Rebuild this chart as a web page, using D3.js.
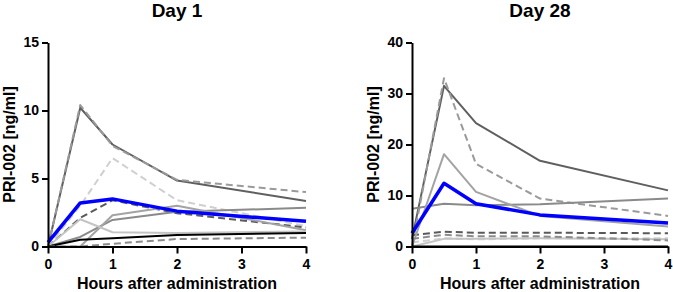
<!DOCTYPE html>
<html>
<head>
<meta charset="utf-8">
<script src="https://cdn.jsdelivr.net/npm/d3@7"></script>
<style>
  body { margin: 0; background: #fff; }
  svg { display: block; font-family: "Liberation Sans", Arial, sans-serif; }
</style>
</head>
<body>
<script>
// sampling times (hours after administration)
const hours = [0, 0.5, 1, 2, 4];
const xTicks = [0, 1, 2, 3, 4];

// one row per subject, same order in both days
const subjects = ['S1', 'S2', 'S3', 'S5', 'S6', 'S7', 'S8', 'S9', 'S10', 'S4'];

const day1Values = [
    [0, 10.2, 7.5, 4.85, 3.35],
    [0, 10.4, 7.4, 4.9, 4.0],
    [0, 3.0, 6.5, 3.4, 1.5],
    [0, 2.1, 3.4, 2.45, 1.4],
    [0, 0.7, 1.95, 2.55, 2.85],
    [0, 0, 2.3, 3.0, 1.2],
    [0, 2.0, 1.05, 1.0, 1.1],
    [0, 0.5, 0.6, 0.85, 1.0],
    [0, 0, 0.2, 0.55, 0.65],
    [0.3, 3.2, 3.5, 2.6, 1.85]
];

const day28Values = [
    [1.5, 31.5, 24.2, 16.8, 11.0],
    [0, 33.0, 16.2, 9.4, 6.0],
    [0.8, 1.6, 1.4, 1.6, 1.6],
    [2.2, 2.9, 2.7, 2.7, 2.6],
    [7.4, 8.4, 8.1, 8.3, 9.4],
    [0, 18.1, 10.7, 6.0, 3.9],
    [0, 1.5, 1.5, 1.6, 1.4],
    [0, 0, 0, 0, 0],
    [1.5, 2.3, 2.0, 2.0, 1.2],
    [2.6, 12.4, 8.4, 6.2, 4.6]
];

const panels = [
    { title: 'Day 1', values: day1Values, yMax: 15, yTicks: [0, 5, 10, 15], x0: 48, x1: 306 },
    { title: 'Day 28', values: day28Values, yMax: 40, yTicks: [0, 10, 20, 30, 40], x0: 412, x1: 668 }
];

// line look per subject (same order as subjects)
const styles = [
    { color: '#5f5f5f', dash: null, w: 2 },
    { color: '#9a9a9a', dash: '7,4', w: 2 },
    { color: '#cfcfcf', dash: '7,4', w: 2 },
    { color: '#5a5a5a', dash: '7,4', w: 2 },
    { color: '#8a8a8a', dash: null, w: 2 },
    { color: '#a3a3a3', dash: null, w: 2 },
    { color: '#c4c4c4', dash: null, w: 2 },
    { color: '#000000', dash: null, w: 2 },
    { color: '#8c8c8c', dash: '7,4', w: 2 },
    { color: '#0000ff', dash: null, w: 3.5 }
];

const W = 673, H = 292;
const plotTop = 42.5, plotBottom = 246.5;

const svg = d3.select('body').append('svg')
    .attr('width', W)
    .attr('height', H);

panels.forEach(p => {
    const x = d3.scaleLinear().domain([0, 4]).range([p.x0, p.x1]);
    const y = d3.scaleLinear().domain([0, p.yMax]).range([plotBottom, plotTop]);
    const g = svg.append('g');

    const line = d3.line()
        .x((d, i) => x(hours[i]))
        .y(d => y(d));

    g.selectAll('path.subj')
        .data(p.values)
        .enter()
        .append('path')
        .attr('class', 'subj')
        .attr('d', line)
        .attr('fill', 'none')
        .attr('stroke', (d, i) => styles[i].color)
        .attr('stroke-width', (d, i) => styles[i].w)
        .attr('stroke-dasharray', (d, i) => styles[i].dash)
        .attr('stroke-linejoin', 'round');

    // axes
    const xAxis = g.append('g')
        .attr('transform', 'translate(0,' + plotBottom + ')')
        .call(d3.axisBottom(x).tickValues(xTicks).tickSize(7).tickSizeOuter(0).tickPadding(6).tickFormat(d3.format('d')));
    const yAxis = g.append('g')
        .attr('transform', 'translate(' + p.x0 + ',0)')
        .call(d3.axisLeft(y).tickValues(p.yTicks).tickSize(6).tickSizeOuter(0).tickPadding(3));

    [xAxis, yAxis].forEach(a => {
        a.select('.domain').attr('stroke', '#000').attr('stroke-width', 2);
        a.selectAll('.tick line').attr('stroke', '#000').attr('stroke-width', 2);
        a.selectAll('.tick text')
            .attr('fill', '#000')
            .style('font-size', '14px')
            .style('font-weight', 'bold')
            .style('font-family', '"Liberation Sans", Arial, sans-serif');
    });

    const cx = (p.x0 + p.x1) / 2;
    g.append('text')
        .attr('x', cx)
        .attr('y', 17)
        .attr('text-anchor', 'middle')
        .style('font-size', '19px')
        .style('font-weight', 'bold')
        .text(p.title);

    g.append('text')
        .attr('x', cx)
        .attr('y', 288.5)
        .attr('text-anchor', 'middle')
        .style('font-size', '16px')
        .style('font-weight', 'bold')
        .text('Hours after administration');

    g.append('text')
        .attr('transform', 'translate(' + (p.x0 - 33) + ',' + ((plotTop + plotBottom) / 2) + ') rotate(-90)')
        .attr('text-anchor', 'middle')
        .style('font-size', '16px')
        .style('font-weight', 'bold')
        .text('PRI-002 [ng/ml]');
});
</script>
</body>
</html>
